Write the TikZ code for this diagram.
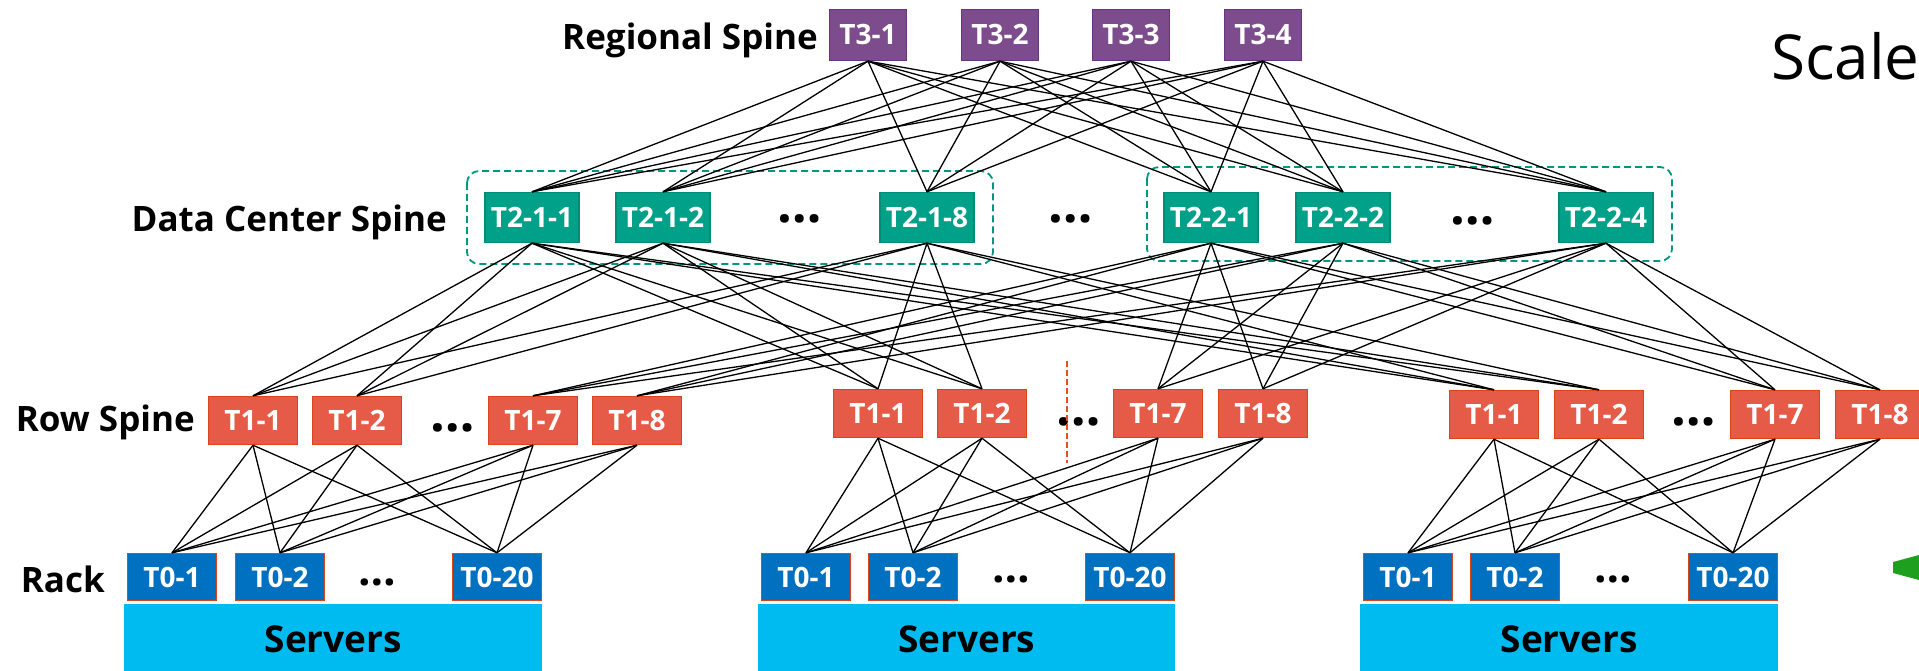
\documentclass[tikz,border=0pt]{standalone}
\usepackage{fontspec}
\setmainfont{Open Sans}
\definecolor{tthree}{RGB}{124,76,140}
\definecolor{tthreeline}{RGB}{104,52,124}
\definecolor{ttwo}{RGB}{0,161,136}
\definecolor{ttwoline}{RGB}{0,140,118}
\definecolor{tone}{RGB}{230,90,72}
\definecolor{toneline}{RGB}{220,68,20}
\definecolor{tzero}{RGB}{0,112,192}
\definecolor{serverfill}{RGB}{0,187,240}
\definecolor{planeline}{RGB}{0,150,130}
\definecolor{cutline}{RGB}{230,80,30}
\definecolor{arrowgreen}{RGB}{30,160,30}
\begin{document}
\begin{tikzpicture}[x=1pt,y=-1pt,
  sw/.style={draw, line width=1.4pt, inner sep=0pt, text=white,
    font=\fontsize{28}{30}\selectfont\bfseries},
  tier3/.style={sw, fill=tthree, draw=tthreeline, minimum width=77pt, minimum height=51pt},
  tier2/.style={sw, fill=ttwo, draw=ttwoline, minimum width=94pt, minimum height=50pt},
  tier1/.style={sw, fill=tone, draw=toneline, minimum width=89pt, minimum height=48pt},
  tier0/.style={sw, fill=tzero, draw=toneline, minimum width=89pt, minimum height=47pt},
  servers/.style={fill=serverfill, inner sep=0pt, anchor=north west, minimum height=70pt,
    font=\fontsize{37}{40}\selectfont\bfseries},
  layer/.style={anchor=base east, inner sep=0pt, font=\fontsize{35}{40}\selectfont\bfseries},
  more/.style={inner sep=0pt, font=\fontsize{52}{52}\selectfont\bfseries},
  moresmall/.style={inner sep=0pt, font=\fontsize{44}{44}\selectfont\bfseries},
  link/.style={line width=1.3pt, black},
  plane/.style={draw=planeline, line width=1.8pt, dash pattern=on 7pt off 4pt, rounded corners=12pt},
  cut/.style={draw=cutline, line width=1.6pt, dash pattern=on 6pt off 3pt}]
\useasboundingbox (0,0) rectangle (1919,671);
\clip (0,0) rectangle (1919,671);

% tier labels
\node[layer] (lregional) at (818,50) {Regional Spine};
\node[layer] (ldc) at (447,231) {Data Center Spine};
\node[layer] (lrow) at (195,431) {Row Spine};
\node[layer] (lrack) at (105,592) {Rack};
\node[anchor=base west, inner sep=0pt, font=\fontsize{62}{70}\selectfont] (scale) at (1771,80) {Scale};

% data center spine planes
\draw[plane] (467,171) rectangle (993,264);
\draw[plane] (1147,167) rectangle (1672,261);

% regional spine
\node[tier3] (t31) at (868,35) {T3-1};
\node[tier3] (t32) at (1000,35) {T3-2};
\node[tier3] (t33) at (1131,35) {T3-3};
\node[tier3] (t34) at (1263,35) {T3-4};

% data center spine
\node[tier2] (t211) at (532,217.5) {T2-1-1};
\node[tier2] (t212) at (663,217.5) {T2-1-2};
\node[tier2] (t218) at (927,217.5) {T2-1-8};
\node[tier2] (t221) at (1211,217.5) {T2-2-1};
\node[tier2] (t222) at (1343,217.5) {T2-2-2};
\node[tier2] (t224) at (1606,217.5) {T2-2-4};
\node[more] (d21) at (800,219) {…};
\node[more] (d2m) at (1071,219) {…};
\node[more] (d22) at (1473,221) {…};

% row spines
\node[tier1] (r1s1) at (253,420.5) {T1-1};
\node[tier1] (r1s2) at (357,420.5) {T1-2};
\node[tier1] (r1s7) at (533,420.5) {T1-7};
\node[tier1] (r1s8) at (637,420.5) {T1-8};
\node[more] (r1d) at (453,428) {…};

\node[tier1] (r2s1) at (878,413.5) {T1-1};
\node[tier1] (r2s2) at (982,413.5) {T1-2};
\node[tier1] (r2s7) at (1158,413.5) {T1-7};
\node[tier1] (r2s8) at (1263,413.5) {T1-8};
\node[more] (r2d) at (1079,422) {…};

\node[tier1] (r3s1) at (1494,414.5) {T1-1};
\node[tier1] (r3s2) at (1599,414.5) {T1-2};
\node[tier1] (r3s7) at (1775,414.5) {T1-7};
\node[tier1] (r3s8) at (1880,414.5) {T1-8};
\node[more] (r3d) at (1694,422) {…};

% racks
\node[tier0] (r1k1) at (172,577) {T0-1};
\node[tier0] (r1k2) at (280,577) {T0-2};
\node[tier0] (r1k20) at (497,577) {T0-20};
\node[moresmall] (r1kd) at (377,582) {…};

\node[tier0] (r2k1) at (806,577) {T0-1};
\node[tier0] (r2k2) at (913,577) {T0-2};
\node[tier0] (r2k20) at (1130,577) {T0-20};
\node[moresmall] (r2kd) at (1011,579) {…};

\node[tier0] (r3k1) at (1408,577) {T0-1};
\node[tier0] (r3k2) at (1515,577) {T0-2};
\node[tier0] (r3k20) at (1733,577) {T0-20};
\node[moresmall] (r3kd) at (1613,579) {…};

% servers
\node[servers, minimum width=418pt] (srv1) at (124,604) {Servers};
\node[servers, minimum width=417pt] (srv2) at (758,604) {Servers};
\node[servers, minimum width=418pt] (srv3) at (1360,604) {Servers};

% regional spine to data center spine: full mesh
\foreach \a in {t31,t32,t33,t34}
  \foreach \b in {t211,t212,t218,t221,t222,t224}
    \draw[link] (\a.south) -- (\b.north);

% plane 1 serves T1-1/T1-2, plane 2 serves T1-7/T1-8 of every row
\foreach \a in {t211,t212,t218}
  \foreach \r in {1,2,3}
    \foreach \s in {1,2}
      \draw[link] (\a.south) -- (r\r s\s.north);
\foreach \a in {t221,t222,t224}
  \foreach \r in {1,2,3}
    \foreach \s in {7,8}
      \draw[link] (\a.south) -- (r\r s\s.north);

% row spine to racks inside each row
\foreach \r in {1,2,3}
  \foreach \s in {1,2,7,8}
    \foreach \k in {1,2,20}
      \draw[link] (r\r s\s.south) -- (r\r k\k.north);

% row boundary marker
\coordinate (cuttop) at (1067,361);
\coordinate (cutbot) at (1067,463);
\draw[cut] (cuttop) -- (cutbot);

% arrow head entering from the right edge
\fill[arrowgreen] (1893,562) -- (1919,555) -- (1919,580) -- (1893,573) -- cycle;
\end{tikzpicture}
\end{document}
